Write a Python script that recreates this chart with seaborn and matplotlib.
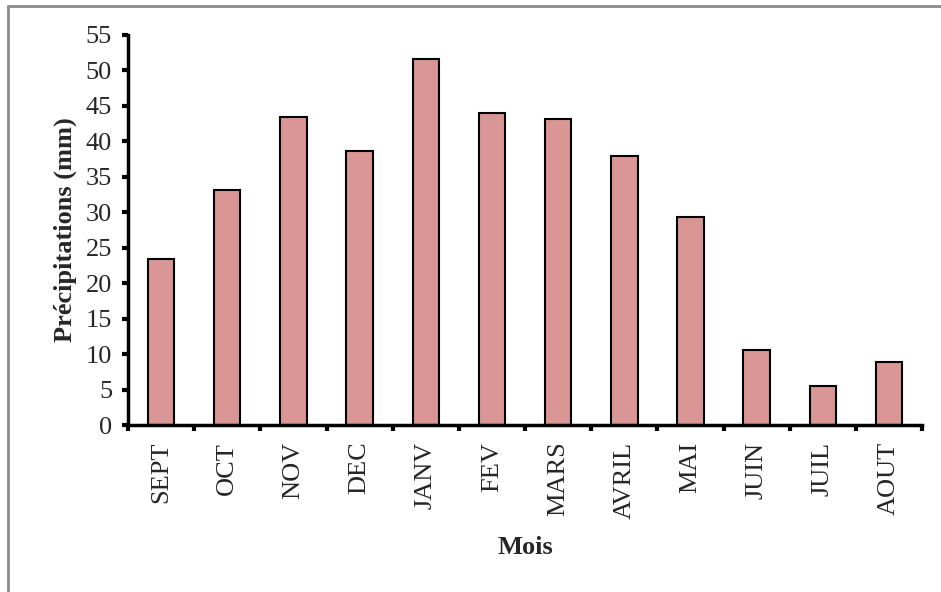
import pandas as pd
import seaborn as sns
import matplotlib.pyplot as plt
from matplotlib.lines import Line2D
import numpy as np

# Monthly precipitation (mm)
months = ['SEPT', 'OCT', 'NOV', 'DEC', 'JANV', 'FEV', 'MARS', 'AVRIL', 'MAI', 'JUIN', 'JUIL', 'AOUT']
precip = [23.4, 33.2, 43.4, 38.6, 51.6, 44.0, 43.1, 38.0, 29.3, 10.6, 5.5, 8.9]

df = pd.DataFrame({'Mois': months, 'Precip': precip})

sns.set_style('white')
plt.rcParams['font.family'] = ['Liberation Serif', 'DejaVu Serif']

fig = plt.figure(figsize=(9.41, 5.92), dpi=100)
ax = fig.add_axes([0.136, 0.282, 0.844, 0.659])

sns.barplot(data=df, x='Mois', y='Precip', color='#D99694', saturation=1,
            width=0.4, edgecolor='black', linewidth=1.5, ax=ax)

ax.set_xlim(-0.5, len(months) - 0.5)
ax.set_ylim(0, 55)
ax.set_yticks(range(0, 56, 5))

# category boundaries get the tick marks, labels sit under bars
ax.set_xticks(np.arange(-0.5, len(months), 1.0), minor=True)
ax.tick_params(axis='x', which='major', bottom=True, length=0, labelsize=19,
               labelrotation=90, pad=12)
ax.tick_params(axis='x', which='minor', bottom=True, length=4.5, width=3,
               direction='out', color='black')
ax.tick_params(axis='y', left=True, length=4.5, width=3, direction='out',
               labelsize=19, pad=7, color='black')

for side in ['top', 'right']:
    ax.spines[side].set_visible(False)
for side in ['left', 'bottom']:
    ax.spines[side].set_linewidth(2.5)
    ax.spines[side].set_color('black')

ax.set_xlabel('Mois', fontsize=19, fontweight='bold', labelpad=12)
ax.set_ylabel('Précipitations (mm)', fontsize=19, fontweight='bold', labelpad=6)

# grey frame around the chart area
fig.add_artist(Line2D([8 / 941, 1.0], [1 - 6 / 592, 1 - 6 / 592], color='#8c8c8c', linewidth=2))
fig.add_artist(Line2D([8 / 941, 8 / 941], [0.0, 1 - 6 / 592], color='#8c8c8c', linewidth=2))

plt.savefig('out.png', dpi=100)
